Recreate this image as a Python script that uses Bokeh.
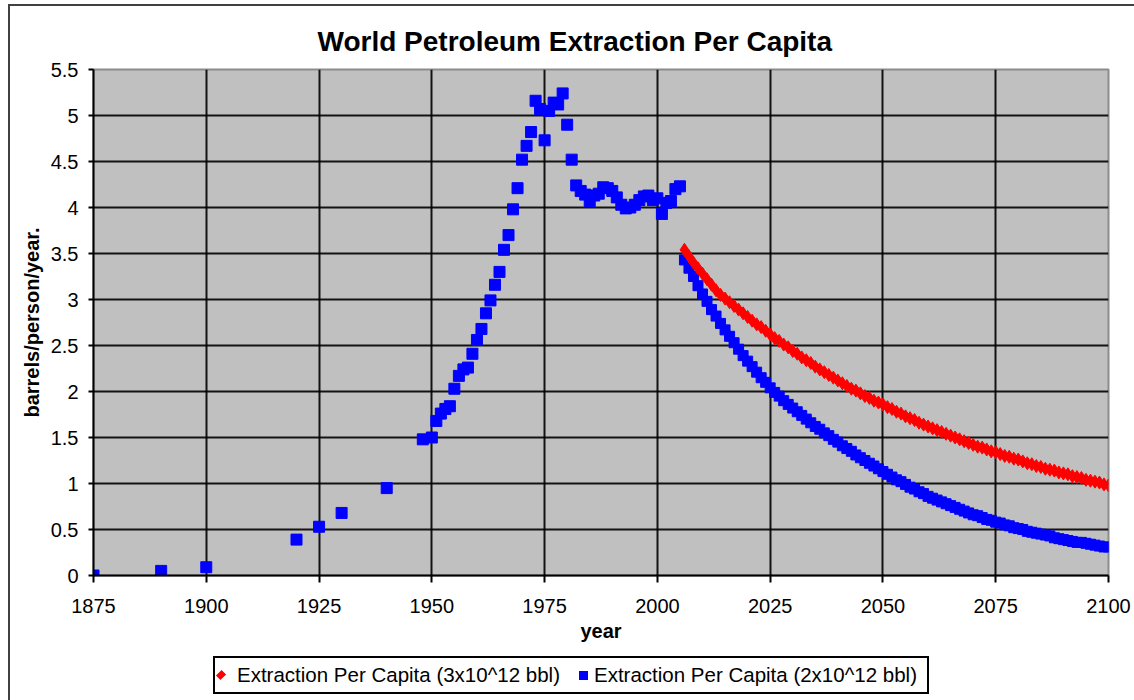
from bokeh.plotting import figure
from bokeh.layouts import column
from bokeh.models import Range1d, FixedTicker, Title, Div
from bokeh.embed import file_html
from bokeh.resources import INLINE

# ---- data ----
hist_years = [1875, 1890, 1900, 1920, 1925, 1930, 1940, 1948, 1950, 1951, 1952, 1953,
              1954, 1955, 1956, 1957, 1958, 1959, 1960, 1961, 1962, 1963, 1964, 1965,
              1966, 1967, 1968, 1969, 1970, 1971, 1972, 1973, 1974, 1975, 1976, 1977,
              1978, 1979, 1980, 1981, 1982, 1983, 1984, 1985, 1986, 1987, 1988, 1989,
              1990, 1991, 1992, 1993, 1994, 1995, 1996, 1997, 1998, 1999, 2000, 2001,
              2002, 2003, 2004, 2005]
hist_values = [0.00, 0.05, 0.09, 0.39, 0.53, 0.68, 0.95, 1.48, 1.50, 1.68, 1.76, 1.81,
               1.84, 2.03, 2.17, 2.24, 2.26, 2.41, 2.56, 2.68, 2.85, 2.99, 3.16, 3.30,
               3.54, 3.70, 3.98, 4.21, 4.52, 4.67, 4.82, 5.16, 5.07, 4.73, 5.05, 5.14,
               5.12, 5.24, 4.90, 4.52, 4.24, 4.18, 4.14, 4.07, 4.13, 4.15, 4.22, 4.21,
               4.18, 4.11, 4.03, 3.99, 4.00, 4.03, 4.08, 4.12, 4.13, 4.08, 4.10, 3.93,
               4.05, 4.07, 4.20, 4.23]

proj_years = list(range(2006, 2101))

red_values = [3.54, 3.47, 3.40, 3.34, 3.28, 3.22, 3.16, 3.10, 3.05, 3.01,
              2.97, 2.93, 2.89, 2.85, 2.81, 2.77, 2.73, 2.70, 2.66, 2.62,
              2.58, 2.55, 2.51, 2.48, 2.44, 2.41, 2.37, 2.34, 2.31, 2.27,
              2.24, 2.21, 2.18, 2.15, 2.12, 2.09, 2.06, 2.03, 2.01, 1.98,
              1.95, 1.93, 1.90, 1.88, 1.86, 1.83, 1.81, 1.78, 1.76, 1.73,
              1.71, 1.69, 1.66, 1.64, 1.62, 1.60, 1.58, 1.56, 1.54, 1.52,
              1.50, 1.48, 1.46, 1.44, 1.42, 1.40, 1.39, 1.37, 1.35, 1.34,
              1.32, 1.30, 1.29, 1.27, 1.26, 1.24, 1.22, 1.21, 1.19, 1.18,
              1.16, 1.15, 1.14, 1.12, 1.11, 1.10, 1.08, 1.07, 1.06, 1.04,
              1.03, 1.02, 1.01, 0.99, 0.98]

blue_values = [3.43, 3.34, 3.25, 3.15, 3.06, 2.98, 2.89, 2.82, 2.74, 2.67,
               2.60, 2.53, 2.46, 2.39, 2.33, 2.27, 2.21, 2.15, 2.10, 2.04,
               1.99, 1.95, 1.90, 1.86, 1.82, 1.78, 1.74, 1.70, 1.66, 1.62,
               1.59, 1.55, 1.52, 1.48, 1.45, 1.41, 1.38, 1.35, 1.31, 1.28,
               1.25, 1.22, 1.19, 1.16, 1.13, 1.10, 1.07, 1.04, 1.02, 0.99,
               0.96, 0.94, 0.91, 0.89, 0.86, 0.84, 0.82, 0.80, 0.78, 0.76,
               0.74, 0.72, 0.70, 0.68, 0.66, 0.65, 0.63, 0.61, 0.60, 0.58,
               0.57, 0.55, 0.54, 0.52, 0.51, 0.50, 0.48, 0.47, 0.46, 0.45,
               0.44, 0.43, 0.41, 0.40, 0.39, 0.38, 0.37, 0.36, 0.36, 0.35,
               0.34, 0.33, 0.32, 0.31, 0.31]

x_ticks = [1875, 1900, 1925, 1950, 1975, 2000, 2025, 2050, 2075, 2100]
y_ticks = [0, 0.5, 1, 1.5, 2, 2.5, 3, 3.5, 4, 4.5, 5, 5.5]
y_tick_labels = ["0", "0.5", "1", "1.5", "2", "2.5", "3", "3.5", "4", "4.5", "5", "5.5"]

title_text = "World Petroleum Extraction Per Capita"
x_title = "year"
y_title = "barrels/person/year."
label_red = "Extraction Per Capita (3x10^12 bbl)"
label_blue = "Extraction Per Capita (2x10^12 bbl)"
color_red = "#FF0000"
color_blue = "#0000FF"

FONT = "Liberation Sans"

p = figure(frame_width=1015, frame_height=506, output_backend="svg",
           toolbar_location=None,
           x_range=Range1d(1875, 2100), y_range=Range1d(0, 5.5),
           min_border_left=83, min_border_right=24, min_border_top=63,
           min_border_bottom=76, title=None)

p.background_fill_color = "#C0C0C0"
p.border_fill_color = "white"
p.outline_line_color = "#8c8c8c"
p.outline_line_width = 2

for g in (p.xgrid, p.ygrid):
    g.grid_line_color = "#000000"
    g.grid_line_width = 2
    g.grid_line_alpha = 0.9
p.xgrid.ticker = FixedTicker(ticks=x_ticks)
p.ygrid.ticker = FixedTicker(ticks=y_ticks)

p.xaxis.ticker = FixedTicker(ticks=x_ticks)
p.yaxis.ticker = FixedTicker(ticks=y_ticks)
p.yaxis.major_label_overrides = {t: l for t, l in zip(y_ticks, y_tick_labels)}
for ax in (p.xaxis[0], p.yaxis[0]):
    ax.axis_line_color = "black"
    ax.axis_line_width = 2
    ax.major_tick_line_color = "black"
    ax.major_tick_line_width = 2
    ax.major_tick_in = 0
    ax.minor_tick_line_color = None
    ax.major_label_text_font = FONT
    ax.major_label_text_font_size = "20px"
    ax.major_label_text_color = "black"
    ax.axis_label_text_font = FONT
    ax.axis_label_text_font_style = "bold"
    ax.axis_label_text_font_size = "20px"
    ax.axis_label_text_color = "black"
p.xaxis.major_tick_out = 7
p.yaxis.major_tick_out = 5
p.xaxis.major_label_standoff = 16
p.yaxis.major_label_standoff = 10
p.xaxis.axis_label = x_title
p.yaxis.axis_label = y_title
p.xaxis.axis_label_standoff = 4
p.yaxis.axis_label_standoff = 5

t = Title(text=title_text, align="left", text_font=FONT, text_font_size="28px",
          text_font_style="bold", text_color="black", standoff=25, offset=224)
p.add_layout(t, "above")

p.scatter(hist_years, hist_values, marker="square", size=11,
          fill_color=color_blue, line_color=color_blue)
p.scatter(proj_years, blue_values, marker="square", size=10,
          fill_color=color_blue, line_color=color_blue)
p.scatter(proj_years, red_values, marker="diamond", size=13,
          fill_color=color_red, line_color=color_red)

legend_html = (
    '<div style="margin-left:198px; width:716px; height:38px; border:2px solid black;'
    ' background:white; display:flex; align-items:center;'
    ' font-family:\'Liberation Sans\', Arial, sans-serif; font-size:20.5px; color:black;'
    ' white-space:nowrap; overflow:hidden;">'
    '<span style="display:inline-block; width:8px; height:8px; margin-left:2px;'
    f' margin-right:12px; background:{color_red}; transform:rotate(45deg) scaleX(0.8);"></span>'
    f'<span>{label_red}</span>'
    '<span style="display:inline-block; width:9px; height:9px; margin-left:19px;'
    f' margin-right:6px; background:{color_blue};"></span>'
    f'<span>{label_blue}</span>'
    '</div>'
)
legend_div = Div(text=legend_html, width=1122, height=46)

layout = column(p, legend_div, spacing=0,
                styles={"border-left": "2px solid #404040",
                        "border-top": "2px solid #404040",
                        "margin-left": "8px", "margin-top": "4px"})

open("out.html", "w").write(file_html(layout, INLINE))
